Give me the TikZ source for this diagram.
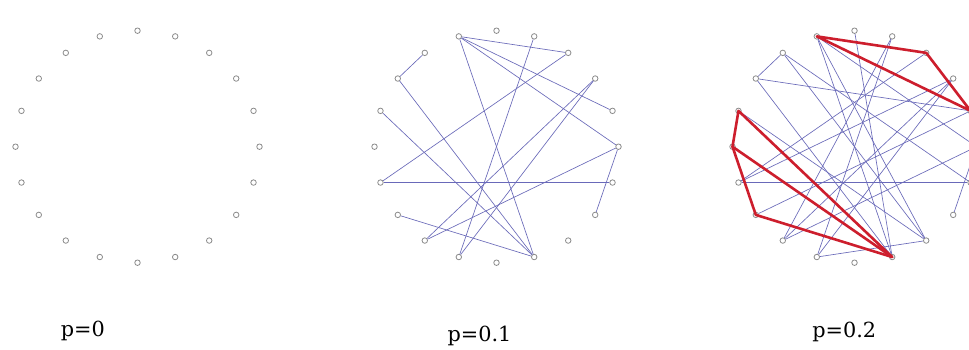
\documentclass[tikz,border=0pt]{standalone}
\usepackage{fontspec}
\setmainfont{DejaVu Serif}
\definecolor{edgeblue}{RGB}{105,105,185}
\definecolor{vertgray}{RGB}{140,140,140}
\definecolor{hired}{RGB}{205,30,45}
\tikzset{
  vert/.style={circle,draw=vertgray,fill=white,line width=0.8pt,inner sep=0pt,minimum size=5.5pt},
  edge/.style={draw=edgeblue,line width=0.65pt},
  hiedge/.style={draw=hired,line width=2.6pt,line join=round,line cap=round},
  plabel/.style={font=\fontsize{20.8}{24}\selectfont,inner sep=0pt,anchor=base}
}
\begin{document}
\begin{tikzpicture}[x=1pt,y=-1pt]
\useasboundingbox[fill=white] (0,0) rectangle (969,349);
% vertices of the three rings
\foreach \k in {0,...,19}{
  \coordinate (pa\k) at ({137.5+122*cos(90-18*\k)},{146.7-116*sin(90-18*\k)});
  \coordinate (pb\k) at ({496.5+122*cos(90-18*\k)},{146.7-116*sin(90-18*\k)});
  \coordinate (pc\k) at ({854.5+122*cos(90-18*\k)},{146.7-116*sin(90-18*\k)});
}
\foreach \k in {0,...,19}{
  \node[vert] (a\k) at (pa\k) {};
  \node[vert] (b\k) at (pb\k) {};
  \node[vert] (c\k) at (pc\k) {};
}
% p = 0.1 edges
\foreach \u/\v in {19/2,19/4,19/5,19/9,1/11,18/17,17/9,16/9,14/2,14/6,13/9,12/3,12/5,11/3,5/7}
  \draw[edge] (b\u) -- (b\v);
% p = 0.2 edges
\foreach \u/\v in {19/5,19/9,19/8,1/11,18/17,18/8,17/4,17/9,16/8,14/2,14/6,14/3,12/3,12/5,11/3,11/8,5/7,13/4,1/12,0/9,18/6}
  \draw[edge] (c\u) -- (c\v);
% highlighted cycles
\draw[hiedge] (c19.center) -- (c2.center) -- (c4.center) -- cycle;
\draw[hiedge] (c16.center) -- (c15.center) -- (c13.center) -- (c9.center) -- cycle;
\draw[hiedge] (c15.center) -- (c9.center);
% labels
\node[plabel] (l0) at (82.9,336) {p=0};
\node[plabel] (l1) at (479.5,341.7) {p=0.1};
\node[plabel] (l2) at (844.3,337.5) {p=0.2};
\end{tikzpicture}
\end{document}
